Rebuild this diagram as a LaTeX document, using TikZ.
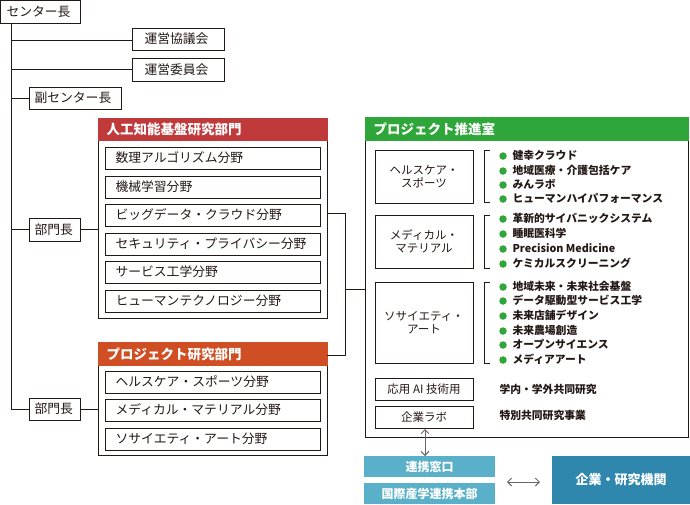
\documentclass[tikz,border=0pt]{standalone}
\usepackage{fontspec}
\setmainfont{Noto Sans CJK JP}
\usetikzlibrary{arrows.meta}
\definecolor{cred}{HTML}{C0393B}
\definecolor{corange}{HTML}{D04E24}
\definecolor{cgreen}{HTML}{2EA63A}
\definecolor{clight}{HTML}{5AB0C8}
\definecolor{cdark}{HTML}{2F87AE}
\definecolor{ctext}{HTML}{231815}
\tikzset{
  box/.style={draw=ctext,line width=0.9pt},
  hdr/.style={text=white,font=\fontsize{13.5}{15}\selectfont\bfseries,anchor=west},
  lbl/.style={text=ctext,font=\fontsize{12.8}{14}\selectfont,anchor=west},
  cl/.style={text=ctext,font=\fontsize{11.5}{13.5}\selectfont,align=center},
  sm/.style={text=ctext,font=\fontsize{10.8}{12}\selectfont\bfseries,anchor=west},
  ln/.style={draw=ctext,line width=0.8pt},
  bul/.style={fill=cgreen,circle,inner sep=0pt,minimum size=7.5pt},
}
\begin{document}
\begin{tikzpicture}[x=1pt,y=-1pt]
\useasboundingbox (0,0) rectangle (690,504);
% top left chain
\draw[box] (0.5,0.5) rectangle (80,23); \node[lbl] (ce) at (3,12) {センター長};
\draw[ln] (11,23) -- (11,409);
\draw[box] (132,28) rectangle (224,50); \node[lbl] (k1) at (141,39) {運営協議会};
\draw[box] (132,58) rectangle (224,81); \node[lbl] (k2) at (141,69.5) {運営委員会};
\draw[box] (29,87) rectangle (121,109); \node[lbl] (fu) at (31,98) {副センター長};
\draw[ln] (11,40) -- (132,40); \draw[ln] (11,69) -- (132,69); \draw[ln] (11,98) -- (29,98);
\draw[box] (29,218) rectangle (80,241); \node[lbl] (b1) at (31,229.5) {部門長};
\draw[box] (29,398) rectangle (80,420); \node[lbl] (b2) at (31,409) {部門長};
\draw[ln] (11,229) -- (29,229); \draw[ln] (80,229) -- (98,229);
\draw[ln] (11,409) -- (29,409); \draw[ln] (80,409) -- (98,409);
% red dept
\draw[box] (98,118) rectangle (327,318);
\fill[cred] (97.5,117.5) rectangle (327.5,141);
\node[hdr] (rh) at (103,129.5) {人工知能基盤研究部門};
\foreach \t/\y in {数理アルゴリズム分野/147,機械学習分野/176,ビッグデータ・クラウド分野/204,セキュリティ・プライバシー分野/233,サービス工学分野/261,ヒューマンテクノロジー分野/290}{
  \draw[box] (105,\y) rectangle (320,\y+22);
  \node[lbl] at (112,\y+11) {\t};
}
% orange dept
\draw[box] (98,342) rectangle (327,455);
\fill[corange] (97.5,341.5) rectangle (327.5,366);
\node[hdr] (oh) at (103,354) {プロジェクト研究部門};
\foreach \t/\y in {ヘルスケア・スポーツ分野/371,メディカル・マテリアル分野/399,ソサイエティ・アート分野/428}{
  \draw[box] (105,\y) rectangle (320,\y+22);
  \node[lbl] at (112,\y+11) {\t};
}
% connectors
\draw[ln] (327,213) -- (345,213) -- (345,355) -- (327,355);
\draw[ln] (345,289) -- (365,289);
% green
\draw[box] (365,117) rectangle (688,437);
\fill[cgreen] (364.5,116.5) rectangle (688.5,141);
\node[hdr] (gh) at (370,129) {プロジェクト推進室};
\draw[box] (375,150) rectangle (473,203); \node[cl] (g1) at (424,176.5) {ヘルスケア・\\スポーツ};
\draw[box] (375,215) rectangle (473,268); \node[cl] (g2) at (424,241.5) {メディカル・\\マテリアル};
\draw[box] (375,282) rectangle (473,363); \node[cl] (g3) at (424,322.5) {ソサイエティ・\\アート};
\draw[box] (375,378) rectangle (473,400); \node[cl] (g4) at (424,389) {応用 AI 技術用};
\draw[box] (375,406) rectangle (473,428); \node[cl] (g5) at (424,417) {企業ラボ};
\foreach \a/\b in {150/202,215/268,282/363}{
  \draw[draw=ctext,line width=0.6pt] (490,\a) -- (484,\a) -- (484,\b) -- (490,\b);
}
\foreach \t/\y in {健幸クラウド/155,地域医療・介護包括ケア/170,みんラボ/184,ヒューマンハイパフォーマンス/198,
  革新的サイバニックシステム/218,睡眠医科学/233,Precision Medicine/248,ケミカルスクリーニング/263,
  地域未来・未来社会基盤/286,データ駆動型サービス工学/300,未来店舗デザイン/315,未来農場創造/330,オープンサイエンス/344,メディアアート/359}{
  \node[bul] at (503,\y+1) {};
  \node[sm] at (509,\y) {\t};
}
\node[sm] (t1) at (496,389) {学内・学外共同研究};
\node[sm] (t2) at (496,415) {特別共同研究事業};
% bottom
\fill[clight] (364,456) rectangle (495,477);
\node[text=white,font=\fontsize{12}{13}\selectfont\bfseries] (r1) at (429.5,466.5) {連携窓口};
\fill[clight] (364,483) rectangle (495,504);
\node[text=white,font=\fontsize{12}{13}\selectfont\bfseries] (r2) at (429.5,493.5) {国際産学連携本部};
\fill[cdark] (552,456) rectangle (690,504);
\node[text=white,font=\fontsize{13}{14}\selectfont\bfseries] (en) at (621,480) {企業・研究機関};
\draw[gray!80!black,line width=1pt,{Straight Barb[length=4pt]}-{Straight Barb[length=4pt]}] (425,429) -- (425,456);
\draw[gray!80!black,line width=1pt,{Straight Barb[length=4pt]}-{Straight Barb[length=4pt]}] (507,482) -- (540,482);
\end{tikzpicture}
\end{document}
